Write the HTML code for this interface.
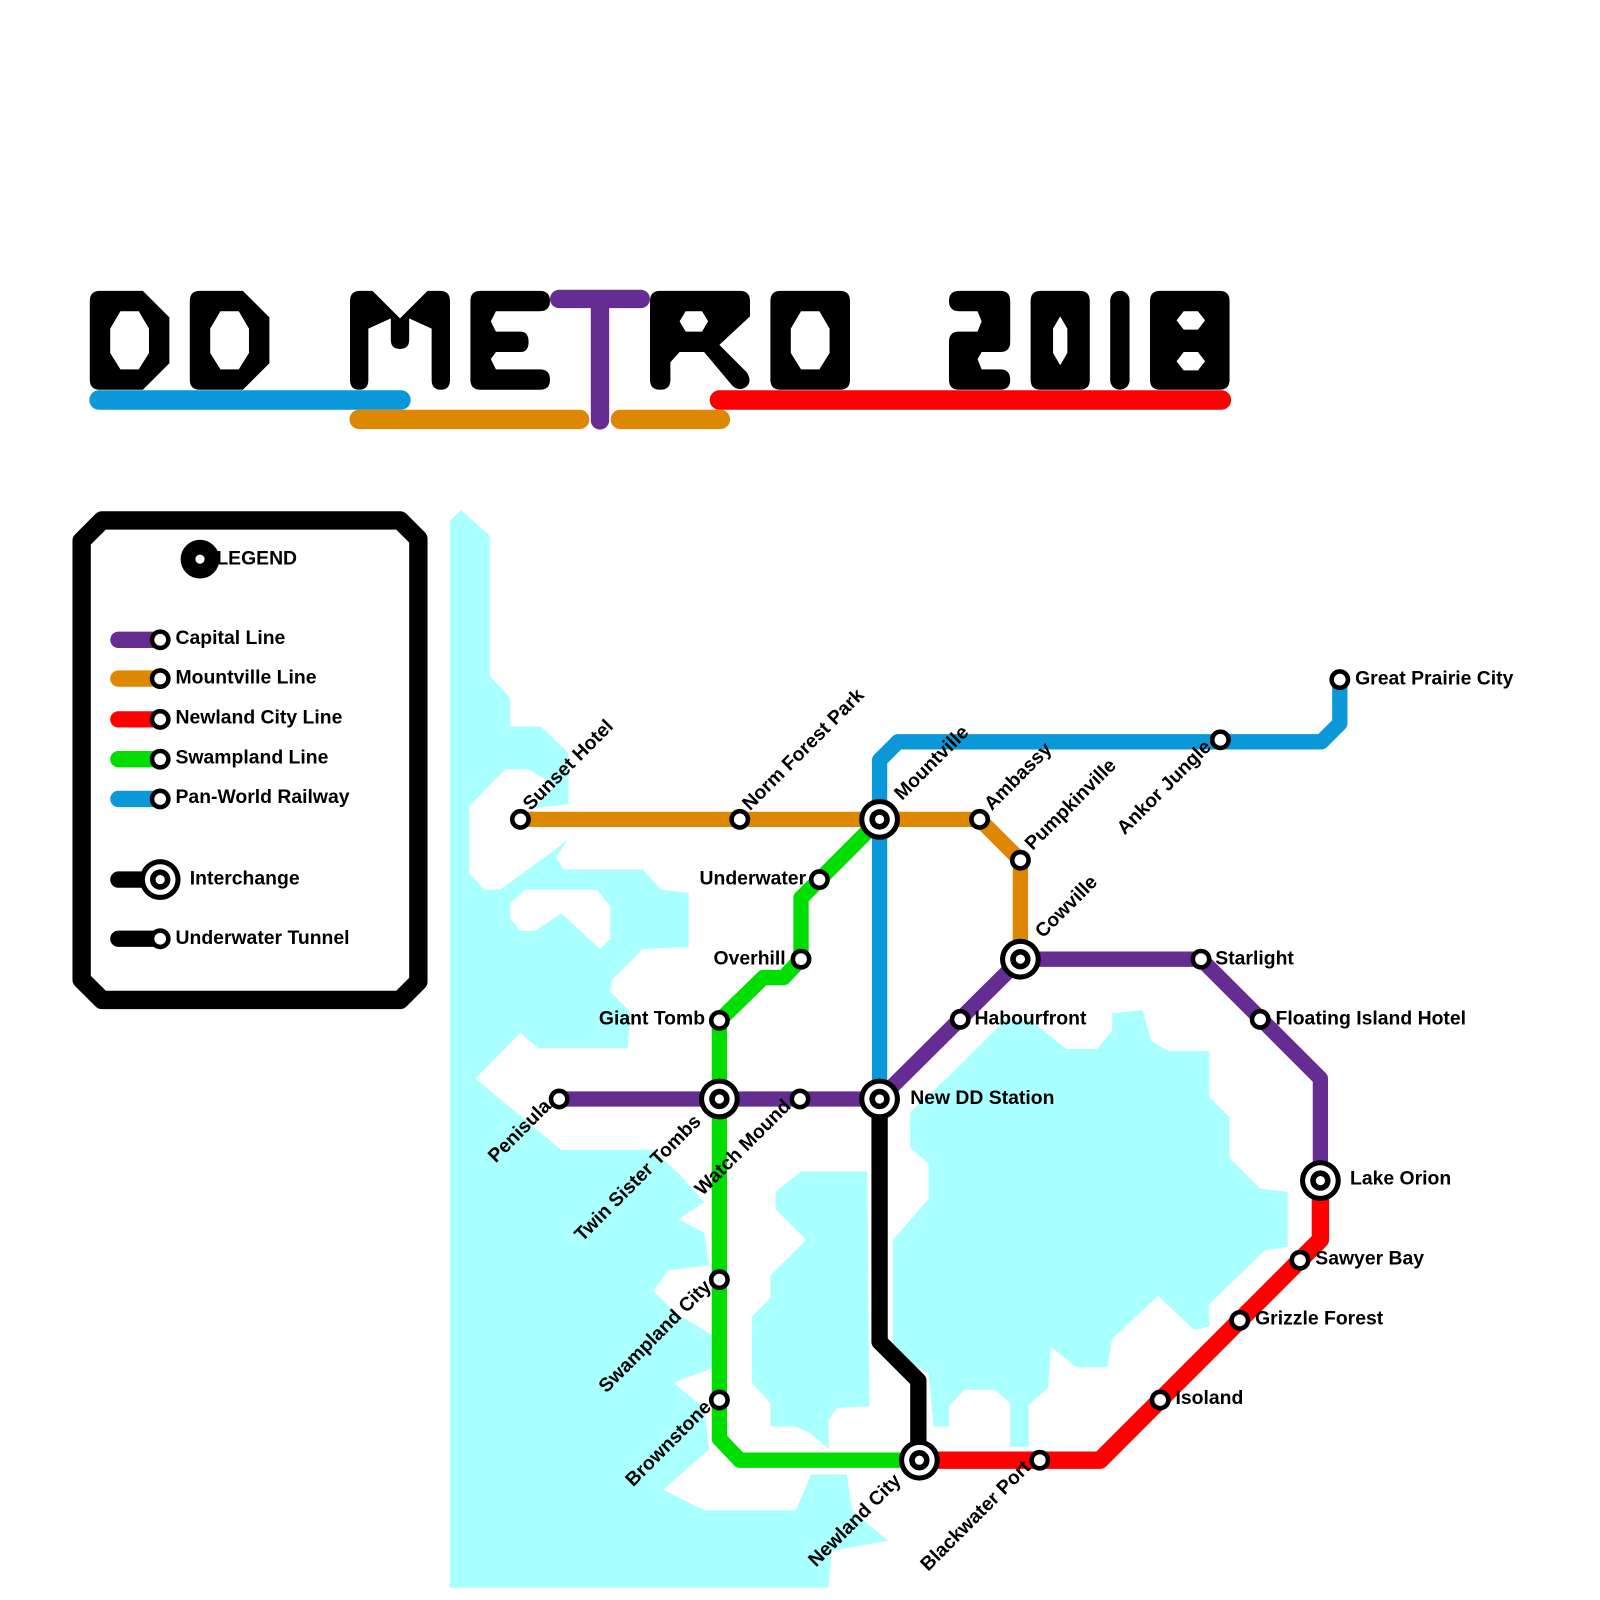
<!DOCTYPE html>
<html><head><meta charset="utf-8"><style>
html,body{margin:0;padding:0;background:#fff}
svg{display:block}
text{font-family:"Liberation Sans",Arial,sans-serif;font-weight:bold;font-size:19px;fill:#000}
</style></head><body>
<svg width="1600" height="1600" viewBox="0 0 1600 1600" xmlns="http://www.w3.org/2000/svg">
<defs>
<g id="st"><circle r="8" fill="#fff" stroke="#000" stroke-width="4.5"/></g>
<g id="ix"><circle r="20" fill="#000"/><circle r="15" fill="#fff"/><circle r="10" fill="#000"/><circle r="4.5" fill="#fff"/></g>
</defs>
<g transform="scale(1.0204)">
<!-- water -->
<g fill="#aaffff">
<path d="M441,510 L452,500 L480,525 L480,662 L500,684 L500,712 L530,712 L557,738 L557,788 L522,792 L545,770 L518,754 L495,754 L460,790 L460,856 L475,872 L490,872 L545,832 L557,822 L545,840 L552,852 L630,852 L648,872 L675,875 L675,928 L630,930 L600,960 L598,972 L618,992 L615,1027 L527,1027 L510,1012 L466,1057 L550,1127 L640,1127 L665,1150 L690,1178 L665,1195 L690,1208 L695,1240 L655,1245 L640,1265 L660,1285 L700,1310 L700,1340 L660,1355 L690,1380 L695,1420 L650,1460 L690,1480 L780,1480 L795,1445 L830,1445 L835,1480 L870,1510 L815,1520 L812,1556 L441,1556 Z"/>
<path d="M892,1090 L935,1050 L985,1000 L1010,1000 L1045,1028 L1075,1028 L1090,1010 L1090,993 L1120,990 L1128,1020 L1145,1030 L1185,1030 L1185,1075 L1205,1095 L1205,1135 L1235,1165 L1262,1168 L1262,1222 L1240,1225 L1185,1278 L1185,1300 L1170,1303 L1135,1270 L1090,1312 L1085,1340 L1055,1340 L1030,1320 L1027,1360 L1008,1377 L1008,1418 L990,1418 L990,1375 L975,1362 L945,1362 L930,1378 L930,1398 L915,1398 L910,1345 L880,1330 L875,1320 L875,1215 L910,1175 L910,1140 L892,1125 Z"/>
<path d="M760,1168 L785,1148 L850,1148 L852,1378 L820,1380 L812,1392 L812,1420 L795,1405 L780,1398 L755,1398 L755,1375 L737,1355 L737,1290 L755,1272 L755,1250 L790,1215 L760,1185 Z"/>
</g>
<path d="M500,885 L515,872 L585,872 L598,888 L598,920 L588,930 L550,895 L525,912 L510,912 L500,900 Z" fill="#fff"/>
<!-- title -->
<g fill="#000" fill-rule="evenodd">
<path d="M98,285 H140 L166,311 V356 L140,382 H98 Q88,382 88,372 V295 Q88,285 98,285 Z M118,305 H136 L146,322 V346 L136,362 H118 L108,346 V322 Z"/>
<path d="M196,285 H238 L264,311 V356 L238,382 H196 Q186,382 186,372 V295 Q186,285 196,285 Z M216,305 H234 L244,322 V346 L234,362 H216 L206,346 V322 Z"/>
<path d="M353,285 H365 L392,312 L419,285 H431 Q441,285 441,295 V372 Q441,382 432,382 Q423,382 423,372 V322 L401,312 V333 Q401,342 392,342 Q383,342 383,333 V312 L361,322 V372 Q361,382 352,382 Q343,382 343,372 V295 Q343,285 353,285 Z"/>
<path d="M471,285 H529 Q539,285 539,295 Q539,305 529,305 H486 L481,315 L486,325 H510 Q518,325 518,335 Q518,345 510,345 H486 L481,352 L486,362 H529 Q539,362 539,372 Q539,382 529,382 H471 Q461,382 461,372 V295 Q461,285 471,285 Z"/>
<path d="M647,285 H725 Q735,285 735,295 V310 L705,338 L732,365 Q738,375 730,380 Q722,384 716,376 L690,345 H666 L657,355 V372 Q657,382 647,382 Q637,382 637,372 V295 Q637,285 647,285 Z M672,305 H688 L694,315 L688,325 H672 L666,315 Z"/>
<path d="M765,285 H823 Q833,285 833,295 V372 Q833,382 823,382 H765 Q755,382 755,372 V295 Q755,285 765,285 Z M785,305 H803 L813,322 V346 L803,362 H785 L775,346 V322 Z"/>
<path d="M940,285 H980 Q990,285 990,295 V335 Q990,345 980,345 H962 L958,352 L962,362 H980 Q990,362 990,372 Q990,382 980,382 H940 Q930,382 930,372 V335 Q930,325 940,325 H958 L962,315 L958,305 H940 Q930,305 930,295 Q930,285 940,285 Z"/>
<path d="M1020,285 H1058 Q1068,285 1068,295 V372 Q1068,382 1058,382 H1020 Q1010,382 1010,372 V295 Q1010,285 1020,285 Z M1039,310 L1046,322 V346 L1039,358 L1032,346 V322 Z"/>
<rect x="1088" y="285" width="19" height="97" rx="9.5"/>
<path d="M1137,285 H1195 Q1205,285 1205,295 V372 Q1205,382 1195,382 H1137 Q1127,382 1127,372 V295 Q1127,285 1137,285 Z M1160,305 H1174 L1181,314 L1174,323 H1160 L1153,314 Z M1160,345 H1174 L1181,354 L1174,363 H1160 L1153,354 Z"/>
</g>
<g stroke-linecap="round" fill="none">
<line x1="97" y1="392" x2="393" y2="392" stroke="#0a98d8" stroke-width="19"/>
<line x1="352" y1="411" x2="568" y2="411" stroke="#dd8800" stroke-width="19"/>
<line x1="608" y1="411" x2="706" y2="411" stroke="#dd8800" stroke-width="19"/>
<line x1="705" y1="392" x2="1197" y2="392" stroke="#ff0000" stroke-width="19"/>
<path d="M548,293 H628 M588,293 V412" stroke="#652d91" stroke-width="18"/>
</g>
<!-- legend -->
<path d="M100,510 L392,510 L410,528 L410,962 L392,980 L100,980 L80,960 L80,530 Z" fill="#fff" stroke="#000" stroke-width="18" stroke-linejoin="round"/>
<circle cx="196" cy="548" r="19" fill="#000"/><circle cx="196" cy="548" r="4.5" fill="#fff"/>
<text x="212" y="553">LEGEND</text>
<g stroke-linecap="round" stroke-width="16">
<line x1="116" y1="627" x2="155" y2="627" stroke="#652d91"/>
<line x1="116" y1="665" x2="155" y2="665" stroke="#dd8800"/>
<line x1="116" y1="705" x2="155" y2="705" stroke="#ff0000"/>
<line x1="116" y1="744" x2="155" y2="744" stroke="#00dd00"/>
<line x1="116" y1="783" x2="155" y2="783" stroke="#0a98d8"/>
<line x1="116" y1="862" x2="155" y2="862" stroke="#000"/>
<line x1="116" y1="920" x2="155" y2="920" stroke="#000"/>
</g>
<use href="#st" x="157" y="627"/><use href="#st" x="157" y="665"/><use href="#st" x="157" y="705"/><use href="#st" x="157" y="744"/><use href="#st" x="157" y="783"/><use href="#ix" x="157" y="862"/><use href="#st" x="157" y="920"/>
<text x="172" y="631">Capital Line</text>
<text x="172" y="670">Mountville Line</text>
<text x="172" y="709">Newland City Line</text>
<text x="172" y="748">Swampland Line</text>
<text x="172" y="787">Pan-World Railway</text>
<text x="186" y="867">Interchange</text>
<text x="172" y="925">Underwater Tunnel</text>
<!-- lines -->
<g fill="none" stroke-width="15" stroke-linejoin="round" stroke-linecap="round">
<path d="M862,1077 V745 L880,727 H1295 L1313,709 V666" stroke="#0a98d8"/>
<path d="M510,803 H960 L1000,843 V940" stroke="#dd8800"/>
<path d="M862,803 L785,880 V940 L768,958 H748 L705,1000 V1410 L725,1431 H900" stroke="#00dd00"/>
<path d="M548,1077 H862 L1000,940 H1177 L1294,1057 V1157" stroke="#652d91"/>
<path d="M1294,1157 V1215 L1274,1235 L1078,1431 H900" stroke="#ff0000" stroke-width="17"/>
<path d="M862,1077 V1315 L880,1333 L900,1353 V1431" stroke="#000" stroke-width="16"/>
</g>
<!-- stations -->
<use href="#st" x="510" y="803"/><use href="#st" x="725" y="803"/><use href="#st" x="960" y="803"/><use href="#st" x="1000" y="843"/>
<use href="#st" x="803" y="862"/><use href="#st" x="785" y="940"/><use href="#st" x="705" y="1000"/>
<use href="#st" x="548" y="1077"/><use href="#st" x="784" y="1077"/><use href="#st" x="941" y="999"/>
<use href="#st" x="1177" y="940"/><use href="#st" x="1235" y="999"/><use href="#st" x="1196" y="725"/><use href="#st" x="1313" y="666"/>
<use href="#st" x="705" y="1254"/><use href="#st" x="705" y="1372"/><use href="#st" x="1019" y="1431"/>
<use href="#st" x="1137" y="1372"/><use href="#st" x="1215" y="1294"/><use href="#st" x="1274" y="1235"/>
<use href="#ix" x="862" y="803"/><use href="#ix" x="1000" y="940"/><use href="#ix" x="705" y="1077"/><use href="#ix" x="862" y="1077"/><use href="#ix" x="1294" y="1157"/><use href="#ix" x="901" y="1431"/>
<!-- labels -->
<text x="790" y="867" text-anchor="end">Underwater</text>
<text x="770" y="945" text-anchor="end">Overhill</text>
<text x="691" y="1004" text-anchor="end">Giant Tomb</text>
<text x="955" y="1004">Habourfront</text>
<text x="892" y="1082">New DD Station</text>
<text x="1191" y="945">Starlight</text>
<text x="1250" y="1004">Floating Island Hotel</text>
<text x="1328" y="671">Great Prairie City</text>
<text x="1323" y="1161">Lake Orion</text>
<text x="1289" y="1239">Sawyer Bay</text>
<text x="1230" y="1298">Grizzle Forest</text>
<text x="1152" y="1376">Isoland</text>
<text transform="translate(520,795) rotate(-45)">Sunset Hotel</text>
<text transform="translate(735,795) rotate(-45)">Norm Forest Park</text>
<text transform="translate(884,785) rotate(-45)">Mountville</text>
<text transform="translate(972,795) rotate(-45)">Ambassy</text>
<text transform="translate(1012,834) rotate(-45)">Pumpkinville</text>
<text transform="translate(1022,920) rotate(-45)">Cowville</text>
<text text-anchor="end" transform="translate(1188,733) rotate(-45)">Ankor Jungle</text>
<text text-anchor="end" transform="translate(541,1085) rotate(-45)">Penisula</text>
<text text-anchor="end" transform="translate(688,1100) rotate(-45)">Twin Sister Tombs</text>
<text text-anchor="end" transform="translate(776,1085) rotate(-45)">Watch Mound</text>
<text text-anchor="end" transform="translate(698,1262) rotate(-45)">Swampland City</text>
<text text-anchor="end" transform="translate(698,1380) rotate(-45)">Brownstone</text>
<text text-anchor="end" transform="translate(884,1452) rotate(-45)">Newland City</text>
<text text-anchor="end" transform="translate(1011,1439) rotate(-45)">Blackwater Port</text>
</g>
</svg>
</body></html>
